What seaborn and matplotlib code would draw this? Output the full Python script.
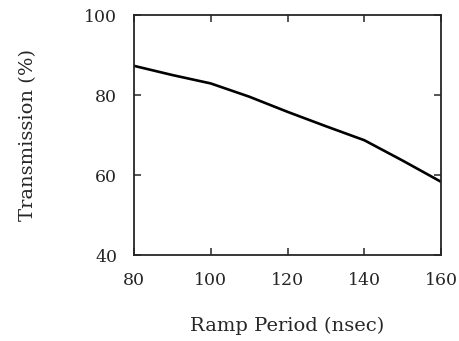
import matplotlib
matplotlib.use("Agg")
import matplotlib.pyplot as plt
import seaborn as sns
import pandas as pd

# values
ramp_period = [80, 90, 100, 110, 120, 130, 140, 150, 160]
transmission = [87.3, 85.0, 82.9, 79.6, 75.8, 72.2, 68.7, 63.6, 58.3]

df = pd.DataFrame({"period": ramp_period, "trans": transmission})

sns.set_style("ticks")
plt.rcParams["font.family"] = ["DejaVu Serif"]

fig = plt.figure(figsize=(4.6, 3.41), dpi=100)
ax = fig.add_axes([0.291, 0.252, 0.668, 0.704])

sns.lineplot(data=df, x="period", y="trans", color="black", linewidth=1.9, ax=ax)

ax.set_xlim(80, 160)
ax.set_ylim(40, 100)
ax.set_xticks([80, 100, 120, 140, 160])
ax.set_yticks([40, 60, 80, 100])
ax.tick_params(direction="in", top=True, right=True, length=5, width=1.1, labelsize=12.5)
ax.tick_params(axis="x", pad=12)
ax.tick_params(axis="y", pad=12)
for s in ax.spines.values():
    s.set_linewidth(1.3)
    s.set_visible(True)

ax.set_xlabel("Ramp Period (nsec)", fontsize=14, labelpad=20)
ax.set_ylabel("Transmission (%)", fontsize=14, labelpad=34)

fig.savefig("out.png", dpi=100)
